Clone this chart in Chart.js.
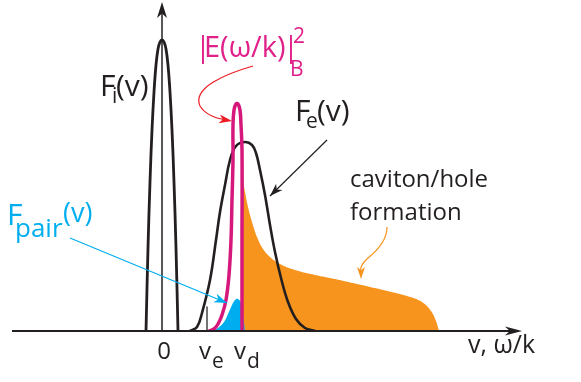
<!DOCTYPE html>
<html>
<head>
<meta charset="utf-8">
<script src="https://cdn.jsdelivr.net/npm/chart.js@4"></script>
<style>
  body { margin: 0; background: #fff; }
  #wrap { width: 581px; height: 382px; }
</style>
</head>
<body>
<div id="wrap"><canvas id="myChart"></canvas></div>
<script>
// Curves (x = velocity, y = distribution height)
var ionX = [-1.6, -1.4, -1.2, -1.0, -0.8, -0.6, -0.4, -0.2, 0, 0.2, 0.4, 0.6, 0.8, 1.0, 1.2, 1.4, 1.6];
var ionY = [0, 8.3, 14.9, 20.1, 23.9, 26.6, 28.2, 28.9, 29.1, 28.9, 28.2, 26.6, 23.9, 20.1, 14.9, 8.3, 0];

var elecX = [2.8, 3.5, 4.0, 4.8, 5.4, 5.8, 6.3, 6.8, 7.4, 8.3, 9.0, 9.4, 9.8, 10.3, 10.8, 11.3, 11.9, 12.6, 13.4, 14.3, 15.3];
var elecY = [0, 0.4, 1.8, 5.1, 9.1, 11.9, 14.6, 17.1, 18.5, 18.9, 18.6, 17.8, 16.1, 13.6, 10.6, 7.9, 5.3, 2.9, 1.2, 0.3, 0];

var fieldX = [4.7, 5.2, 5.6, 6.0, 6.4, 6.7, 6.9, 7.0, 7.1, 7.1, 7.2, 7.4, 7.6, 7.8, 7.9, 8.0, 8.0, 8.0];
var fieldY = [0, 0.2, 0.7, 1.6, 3.1, 5.6, 9.1, 13.1, 17.1, 20.6, 22.1, 22.7, 22.7, 22.1, 20.6, 18.1, 9.0, 0];

var pairX = [5.0, 5.6, 6.2, 6.6, 7.0, 7.3, 7.6, 7.9, 8.1, 8.3];
var pairY = [0, 0.3, 0.9, 1.7, 2.6, 3.1, 3.2, 2.8, 1.6, 0];

var holeX = [8.0, 8.0, 8.3, 8.6, 9.0, 9.5, 10.1, 10.8, 11.8, 13.3, 15.3, 17.3, 19.5, 22.1, 24.5, 26.0, 26.9, 27.4, 27.7];
var holeY = [0, 15.3, 13.9, 12.4, 10.9, 9.4, 8.2, 7.4, 6.7, 6.1, 5.6, 5.2, 4.7, 4.1, 3.5, 2.9, 2.0, 1.0, 0];

var tickX = [4.5, 4.5]; // v_e marker
var tickY = [0, 2.4];

var axisLabels = ['0', 'v', 'e', 'v', 'd', 'v, \u03c9/k'];

function pts(xs, ys) {
    return xs.map(function (x, i) { return { x: x, y: ys[i] }; });
}

var BLACK = '#231f20';
var MAGENTA = '#d6187c';
var PINK_TEXT = '#e0218a';
var CYAN = '#00aeef';
var ORANGE = '#f7941d';
var RED = '#ed1c24';
var FONT = '"Open Sans", sans-serif';

// arrowhead with a notched back, like the drawing tool ones
function arrowHead(ctx, tx, ty, ang, len, hw, color) {
    ctx.save();
    ctx.translate(tx, ty);
    ctx.rotate(ang);
    ctx.fillStyle = color;
    ctx.beginPath();
    ctx.moveTo(0, 0);
    ctx.lineTo(-len, -hw);
    ctx.lineTo(-len * 0.72, 0);
    ctx.lineTo(-len, hw);
    ctx.closePath();
    ctx.fill();
    ctx.restore();
}

var decorations = {
    id: 'decorations',
    afterDatasetsDraw: function (chart) {
        var ctx = chart.ctx;
        var sx = chart.scales.x, sy = chart.scales.y;
        function P(x, y) { return [sx.getPixelForValue(x), sy.getPixelForValue(y)]; }

        ctx.save();
        ctx.lineCap = 'butt';

        // horizontal axis
        var a = P(-15.0, 0), b = P(36.0, 0);
        ctx.strokeStyle = BLACK;
        ctx.lineWidth = 2;
        ctx.beginPath(); ctx.moveTo(a[0], a[1]); ctx.lineTo(b[0] - 8, b[1]); ctx.stroke();
        arrowHead(ctx, b[0], b[1], 0, 17, 4.5, BLACK);

        // vertical axis
        a = P(0, 0); b = P(0, 32.9);
        ctx.lineWidth = 1.5;
        ctx.beginPath(); ctx.moveTo(a[0], a[1]); ctx.lineTo(b[0], b[1] + 8); ctx.stroke();
        arrowHead(ctx, b[0], b[1], -Math.PI / 2, 16, 5, BLACK);

        // F_e pointer
        a = P(16.5, 19.1); b = P(10.8, 13.5);
        ctx.lineWidth = 1.2;
        ctx.beginPath(); ctx.moveTo(a[0], a[1]); ctx.lineTo(b[0], b[1]); ctx.stroke();
        arrowHead(ctx, b[0], b[1], Math.atan2(b[1] - a[1], b[0] - a[0]), 13, 4.5, BLACK);

        // F_pair pointer
        a = P(-9.2, 9.3); b = P(6.5, 2.8);
        ctx.strokeStyle = CYAN;
        ctx.beginPath(); ctx.moveTo(a[0], a[1]); ctx.lineTo(b[0], b[1]); ctx.stroke();
        arrowHead(ctx, b[0], b[1], Math.atan2(b[1] - a[1], b[0] - a[0]), 13, 4.5, CYAN);

        // curved red pointer to the field peak
        var r = [P(9.1, 26.5), P(6.3, 25.7), P(3.0, 24.3), P(3.8, 22.5), P(4.4, 21.5), P(5.8, 21.2), P(7.0, 21.0)];
        ctx.strokeStyle = RED;
        ctx.beginPath();
        ctx.moveTo(r[0][0], r[0][1]);
        ctx.bezierCurveTo(r[1][0], r[1][1], r[2][0], r[2][1], r[3][0], r[3][1]);
        ctx.bezierCurveTo(r[4][0], r[4][1], r[5][0], r[5][1], r[6][0] - 6, r[6][1] - 1);
        ctx.stroke();
        arrowHead(ctx, r[6][0], r[6][1], Math.atan2(r[6][1] - r[5][1], r[6][0] - r[5][0]), 13, 4.5, RED);

        // wavy orange pointer
        var o = [P(22.5, 10.4), P(22.5, 9.1), P(21.6, 8.1), P(20.6, 7.3), P(19.8, 6.6), P(19.8, 6.1), P(19.9, 5.2)];
        ctx.strokeStyle = ORANGE;
        ctx.beginPath();
        ctx.moveTo(o[0][0], o[0][1]);
        ctx.bezierCurveTo(o[1][0], o[1][1], o[2][0], o[2][1], o[3][0], o[3][1]);
        ctx.bezierCurveTo(o[4][0], o[4][1], o[5][0], o[5][1], o[6][0], o[6][1] - 6);
        ctx.stroke();
        arrowHead(ctx, o[6][0], o[6][1], Math.PI / 2, 12, 4, ORANGE);

        // labels
        function txt(s, x, y, size, color, align) {
            var p = P(x, y);
            ctx.font = size + 'px ' + FONT;
            ctx.fillStyle = color;
            ctx.textAlign = align || 'left';
            ctx.textBaseline = 'alphabetic';
            ctx.fillText(s, p[0], p[1]);
        }
        txt('F', -6.2, 23.5, 30, BLACK);
        txt('i', -5.0, 22.8, 21, BLACK);
        txt('(v)', -4.6, 23.5, 30, BLACK);

        txt('|', 3.3, 27.4, 29, PINK_TEXT);
        txt('E(\u03c9/k)', 4.2, 27.4, 29, PINK_TEXT);
        txt('|', 12.1, 27.4, 29, PINK_TEXT);
        txt('B', 12.8, 25.5, 21, PINK_TEXT);
        txt('2', 13.1, 28.8, 21, PINK_TEXT);

        txt('F', 13.3, 21.0, 30, BLACK);
        txt('e', 14.4, 20.3, 21, BLACK);
        txt('(v)', 15.5, 21.0, 30, BLACK);

        txt('F', -15.5, 10.6, 30, CYAN);
        txt('pair', -14.7, 9.4, 26, CYAN);
        txt('(v)', -9.9, 10.9, 27, CYAN);

        txt('caviton/hole', 18.8, 14.4, 24, BLACK);
        txt('formation', 18.8, 11.1, 24, BLACK);

        txt(axisLabels[0], 0.2, -2.8, 24, BLACK, 'center');
        txt(axisLabels[1], 3.7, -2.8, 24, BLACK);
        txt(axisLabels[2], 5.0, -3.7, 21, BLACK);
        txt(axisLabels[3], 7.2, -2.8, 24, BLACK);
        txt(axisLabels[4], 8.5, -3.7, 21, BLACK);
        txt(axisLabels[5], 30.6, -2.2, 25, BLACK);
        ctx.restore();
    }
};

var ctx = document.getElementById('myChart').getContext('2d');
var myChart = new Chart(ctx, {
    type: 'line',
    data: {
        datasets: [{
            label: '|E(\u03c9/k)|B^2',
            data: pts(fieldX, fieldY),
            borderColor: MAGENTA,
            borderWidth: 3.5,
            order: 1
        }, {
            label: 'Fe(v)',
            data: pts(elecX, elecY),
            borderColor: BLACK,
            borderWidth: 2.6,
            order: 2
        }, {
            label: 'Fi(v)',
            data: pts(ionX, ionY),
            borderColor: BLACK,
            borderWidth: 2.8,
            order: 3
        }, {
            label: 've',
            data: pts(tickX, tickY),
            borderColor: '#444',
            borderWidth: 1.5,
            tension: 0,
            order: 3
        }, {
            label: 'Fpair(v)',
            data: pts(pairX, pairY),
            borderWidth: 0,
            borderColor: CYAN,
            backgroundColor: CYAN,
            fill: 'origin',
            order: 4
        }, {
            label: 'caviton/hole formation',
            data: pts(holeX, holeY),
            borderWidth: 0,
            borderColor: ORANGE,
            backgroundColor: ORANGE,
            fill: 'origin',
            order: 5
        }]
    },
    options: {
        responsive: true,
        maintainAspectRatio: false,
        animation: false,
        layout: { padding: { left: 10, right: 53, top: 0, bottom: 51 } },
        elements: {
            point: { radius: 0 },
            line: { tension: 0.4, borderCapStyle: 'round', borderJoinStyle: 'round' }
        },
        scales: {
            x: { type: 'linear', min: -15.2, max: 36.6, display: false },
            y: { min: 0, max: 33.1, display: false }
        },
        plugins: {
            legend: { display: false },
            tooltip: { enabled: false }
        }
    },
    plugins: [decorations]
});
</script>
</body>
</html>
